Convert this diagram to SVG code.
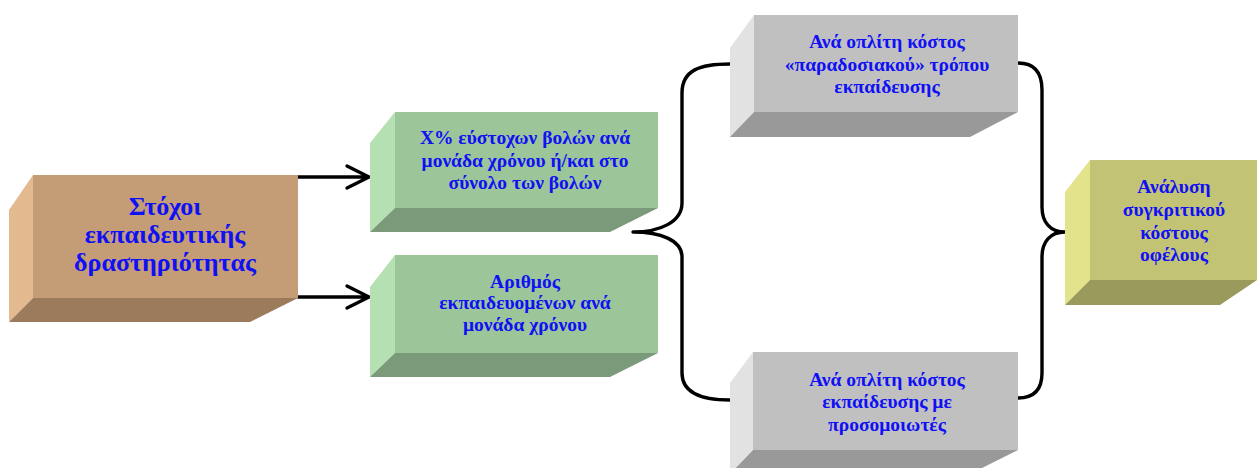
<svg xmlns="http://www.w3.org/2000/svg" width="1260" height="468" viewBox="0 0 1260 468">
<defs>
<style>
.t{font-family:"Liberation Serif","Times New Roman",serif;font-weight:bold;fill:#1010F5;text-anchor:middle}
.s{font-size:19.5px}
.b{font-size:26px}
.c{fill:none;stroke:#000;stroke-width:3.4;stroke-linecap:round;stroke-linejoin:round}
.br .f{fill:#C49C75}.br .l{fill:#E3B98F}.br .d{fill:#9B7B5B}
.gr .f{fill:#9CC59A}.gr .l{fill:#B4E0B2}.gr .d{fill:#7A9A79}
.gy .f{fill:#C0C0C0}.gy .l{fill:#E2E2E2}.gy .d{fill:#999999}
.yl .f{fill:#C3C375}.yl .l{fill:#E3E38B}.yl .d{fill:#9A9A5C}
</style>
</defs>
<rect width="1260" height="468" fill="#fff"/>
<g id="connectors">
<path class="c" d="M298 177 H367 M347 166 L369 177 L347 188"/>
<path class="c" d="M298 297 H367 M347 286 L369 297 L347 308"/>
<path class="c" d="M730 64 C700 64 682 70 682 93 V203 C682 222 660 232 633 232 C660 232 682 240 682 257 V373 C682 392 700 400 730 400"/>
<path class="c" d="M1018 63 C1034 63 1042 72 1042 90 V207 C1042 222 1050 232 1065 232 C1050 232 1042 242 1042 257 V373 C1042 390 1034 398 1018 398"/>
</g>
<g id="n1" class="br">
<polygon class="l" points="33,175 9,210 9,322 33,298"/>
<polygon class="d" points="33,298 298,298 250,322 9,322"/>
<rect class="f" x="33" y="175" width="265" height="123"/>
<text class="t b" x="165" y="215">Στόχοι</text>
<text class="t b" x="165" y="243">εκπαιδευτικής</text>
<text class="t b" x="165" y="271">δραστηριότητας</text>
</g>
<g id="n2" class="gr">
<polygon class="l" points="395,112 370,143 370,232 395,208"/>
<polygon class="d" points="395,208 658,208 610,232 370,232"/>
<rect class="f" x="395" y="112" width="263" height="96"/>
<text class="t s" x="525" y="144">Χ% εύστοχων βολών ανά</text>
<text class="t s" x="525" y="167">μονάδα χρόνου ή/και στο</text>
<text class="t s" x="525" y="189">σύνολο των βολών</text>
</g>
<g id="n3" class="gr">
<polygon class="l" points="395,255 370,287 370,377 395,353"/>
<polygon class="d" points="395,353 658,353 610,377 370,377"/>
<rect class="f" x="395" y="255" width="263" height="98"/>
<text class="t s" x="525" y="288">Αριθμός</text>
<text class="t s" x="525" y="309">εκπαιδευομένων ανά</text>
<text class="t s" x="525" y="331">μονάδα χρόνου</text>
</g>
<g id="n4" class="gy">
<polygon class="l" points="754,15 730,48 730,137 754,112"/>
<polygon class="d" points="754,112 1018,112 970,137 730,137"/>
<rect class="f" x="754" y="15" width="264" height="97"/>
<text class="t s" x="887" y="48">Ανά οπλίτη κόστος</text>
<text class="t s" x="887" y="71">«παραδοσιακού» τρόπου</text>
<text class="t s" x="887" y="93">εκπαίδευσης</text>
</g>
<g id="n5" class="gy">
<polygon class="l" points="753,352 730,383 730,474 753,450"/>
<polygon class="d" points="753,450 1018,450 970,474 730,474"/>
<rect class="f" x="753" y="352" width="265" height="98"/>
<text class="t s" x="887" y="386">Ανά οπλίτη κόστος</text>
<text class="t s" x="887" y="408">εκπαίδευσης με</text>
<text class="t s" x="887" y="431">προσομοιωτές</text>
</g>
<g id="n6" class="yl">
<polygon class="l" points="1090,160 1065,192 1065,305 1090,280"/>
<polygon class="d" points="1090,280 1257,280 1220,305 1065,305"/>
<rect class="f" x="1090" y="160" width="167" height="120"/>
<text class="t s" x="1174" y="193">Ανάλυση</text>
<text class="t s" x="1174" y="216">συγκριτικού</text>
<text class="t s" x="1174" y="239">κόστους</text>
<text class="t s" x="1174" y="261">οφέλους</text>
</g>
</svg>
